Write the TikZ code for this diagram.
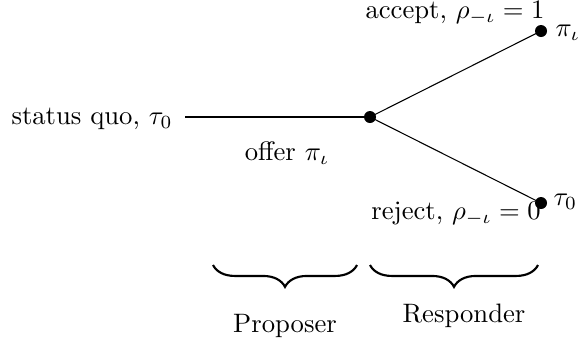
\documentclass[tikz,border=0pt]{standalone}
\usetikzlibrary{decorations.pathreplacing}
\begin{document}
\begin{tikzpicture}[x=0.375pt,y=-0.375pt,
  dot/.style={circle,fill,inner sep=0pt,minimum size=4.5pt},
  lbl/.style={inner sep=0pt,anchor=base},
  brc/.style={decorate,decoration={brace,mirror,amplitude=8.2pt},line width=0.8pt}]
\useasboundingbox (0,0) rectangle (579,338);
\node[dot] (m) at (370,117) {};
\node[dot] (a) at (541,31) {};
\node[dot] (r) at (541,203) {};
\node[lbl,anchor=base east] (sq) at (173,124) {status quo, $\tau_0$};
\draw[shorten <=4.5pt] (sq.east |- m.center) -- (m.center);
\draw (m.center) -- (a.center);
\draw (m.center) -- (r.center);
\node[lbl] (off) at (287,160) {offer $\pi_\iota$};
\node[lbl] (acc) at (455,18) {accept, $\rho_{-\iota}=1$};
\node[lbl] (rej) at (456,219) {reject, $\rho_{-\iota}=0$};
\node[lbl,anchor=base west] (pa) at (555,36) {$\pi_\iota$};
\node[lbl,anchor=base west] (pr) at (553,205) {$\tau_0$};
\coordinate (b1l) at (213,265);
\coordinate (b1r) at (357,265);
\coordinate (b2l) at (370,265);
\coordinate (b2r) at (538,265);
\draw[brc] (b1l) -- (b1r);
\draw[brc] (b2l) -- (b2r);
\node[lbl] (prop) at (285,332) {Proposer};
\node[lbl] (resp) at (464,322) {Responder};
\end{tikzpicture}
\end{document}
